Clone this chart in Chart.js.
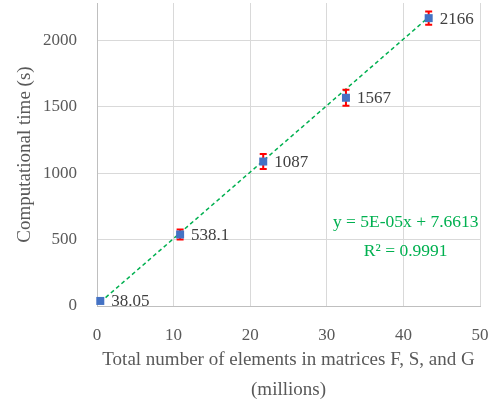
<!DOCTYPE html>
<html>
<head>
<meta charset="utf-8">
<script src="https://cdn.jsdelivr.net/npm/chart.js@4"></script>
<style>
  html, body { margin: 0; padding: 0; background: #fff; }
</style>
</head>
<body>
<canvas id="graph" width="504" height="405"></canvas>
<script>
// значения
const elementsMillions = [0.43, 10.85, 21.7, 32.5, 43.3];
const compTime = [38.05, 538.1, 1087, 1567, 2166];
const timeLabels = ['38.05', '538.1', '1087', '1567', '2166'];
const timeError = [0, 38, 56, 60, 50];
const trendX = [0.43, 43.3];
const trendY = [29, 2173];
const yTicks = [0, 500, 1000, 1500, 2000];
const xTicks = [0, 10, 20, 30, 40, 50];
const equationLines = ['y = 5E-05x + 7.6613', 'R\u00B2 = 0.9991'];
const equationPos = { x: 40.3, y: [630, 410] };

const FONT = 'Liberation Serif';
const TEXT = '#404040';
const GREEN = '#00B050';

function ErrorBarPlugin() {
  return {
    id: 'errorBars',
    afterDatasetsDraw: (chart) => {
      const ctx = chart.ctx;
      const xAxis = chart.scales['x'];
      const yAxis = chart.scales['y'];
      ctx.save();
      ctx.strokeStyle = '#FF0000';
      ctx.lineWidth = 2;
      elementsMillions.forEach((xv, i) => {
        if (!timeError[i]) return;
        const x = xAxis.getPixelForValue(xv);
        const y1 = yAxis.getPixelForValue(compTime[i] + timeError[i]);
        const y2 = yAxis.getPixelForValue(compTime[i] - timeError[i]);
        ctx.beginPath();
        ctx.moveTo(x, y1); ctx.lineTo(x, y2);
        ctx.moveTo(x - 3.5, y1); ctx.lineTo(x + 3.5, y1);
        ctx.moveTo(x - 3.5, y2); ctx.lineTo(x + 3.5, y2);
        ctx.stroke();
      });
      // маркеры поверх усов
      ctx.fillStyle = '#4472C4';
      elementsMillions.forEach((xv, i) => {
        const x = xAxis.getPixelForValue(xv);
        const y = yAxis.getPixelForValue(compTime[i]);
        ctx.fillRect(x - 4, y - 4, 8, 8);
      });
      ctx.restore();
    }
  };
}

function LabelPlugin() {
  return {
    id: 'labels',
    afterDraw: (chart) => {
      const ctx = chart.ctx;
      const xAxis = chart.scales['x'];
      const yAxis = chart.scales['y'];
      ctx.save();
      ctx.font = '17px "' + FONT + '"';
      ctx.fillStyle = TEXT;
      ctx.textAlign = 'left';
      ctx.textBaseline = 'middle';
      elementsMillions.forEach((xv, i) => {
        const x = xAxis.getPixelForValue(xv);
        const y = yAxis.getPixelForValue(compTime[i]);
        ctx.fillText(timeLabels[i], x + 11, y + 1);
      });
      // уравнение тренда
      ctx.font = '17.5px "' + FONT + '"';
      ctx.fillStyle = GREEN;
      ctx.textAlign = 'center';
      equationLines.forEach((t, i) => {
        ctx.fillText(t, xAxis.getPixelForValue(equationPos.x), yAxis.getPixelForValue(equationPos.y[i]));
      });
      ctx.restore();
    }
  };
}

function noPadding(scale) {
  scale.paddingTop = 0;
  scale.paddingBottom = 0;
  scale.paddingLeft = 0;
  scale.paddingRight = 0;
}

new Chart(document.getElementById('graph'), {
  type: 'scatter',
  data: {
    datasets: [
      {
        label: 'trend',
        type: 'line',
        data: trendX.map((x, i) => ({ x: x, y: trendY[i] })),
        borderColor: GREEN,
        borderWidth: 1.5,
        borderDash: [4, 3],
        pointRadius: 0,
        fill: false
      },
      {
        label: 'time',
        data: elementsMillions.map((x, i) => ({ x: x, y: compTime[i] })),
        pointRadius: 0,
        backgroundColor: '#4472C4'
      }
    ]
  },
  options: {
    responsive: false,
    animation: false,
    layout: { padding: { top: 3, right: 24, left: 0, bottom: 0 } },
    plugins: {
      legend: { display: false },
      tooltip: { enabled: false }
    },
    scales: {
      x: {
        type: 'linear',
        min: 0,
        max: 50,
        afterBuildTicks: (scale) => { scale.ticks = xTicks.map(v => ({ value: v })); },
        ticks: { color: '#595959', font: { family: FONT, size: 17 }, padding: 19, callback: (v) => String(v) },
        grid: { color: '#d9d9d9', drawTicks: false },
        border: { color: '#bfbfbf' },
        title: {
          display: true,
          text: ['Total number of elements in matrices F, S, and G', '(millions)'],
          color: '#595959',
          font: { family: FONT, size: 19, lineHeight: 1.58 },
          padding: { top: 0, bottom: 0 }
        },
        afterFit: (scale) => { noPadding(scale); scale.height = 99; }
      },
      y: {
        min: 0,
        max: 2280,
        afterBuildTicks: (scale) => { scale.ticks = yTicks.map(v => ({ value: v })); },
        ticks: { color: '#595959', font: { family: FONT, size: 17 }, padding: 20, callback: (v) => String(v) },
        grid: { color: '#d9d9d9', drawTicks: false },
        border: { color: '#bfbfbf' },
        title: {
          display: true,
          text: 'Computational time (s)',
          color: '#595959',
          font: { family: FONT, size: 19 },
          padding: { top: 14, bottom: 0 }
        },
        afterFit: (scale) => { noPadding(scale); scale.width = 97; }
      }
    }
  },
  plugins: [ErrorBarPlugin(), LabelPlugin()]
});
</script>
</body>
</html>
